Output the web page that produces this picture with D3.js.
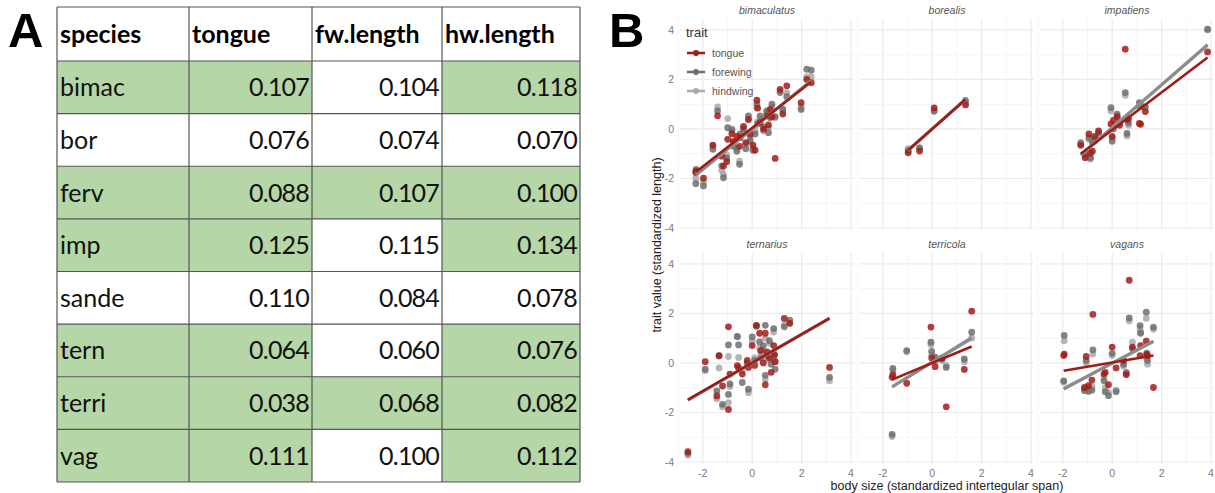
<!DOCTYPE html>
<html>
<head>
<meta charset="utf-8">
<script src="https://cdn.jsdelivr.net/npm/d3@7"></script>
<style>
  body { margin: 0; background: #fff; }
  svg { display: block; }
</style>
</head>
<body>
<svg id="fig" width="1215" height="493"></svg>
<script>
// ---------- Panel A: table data ----------
const tableHeader = ["species", "tongue", "fw.length", "hw.length"];
const species = ["bimac", "bor", "ferv", "imp", "sande", "tern", "terri", "vag"];
const tongue = [0.107, 0.076, 0.088, 0.125, 0.110, 0.064, 0.038, 0.111];
const fwLength = [0.104, 0.074, 0.107, 0.115, 0.084, 0.060, 0.068, 0.100];
const hwLength = [0.118, 0.070, 0.100, 0.134, 0.078, 0.076, 0.082, 0.112];
// green shading per cell (species, tongue, fw, hw)
const shaded = [
    [1, 1, 0, 1], [0, 0, 0, 0], [1, 1, 1, 1], [1, 1, 0, 1],
    [0, 0, 0, 0], [1, 1, 0, 1], [1, 1, 1, 1], [1, 1, 0, 1]
];

// ---------- Panel B: scatter data, rows are [body size, tongue, forewing, hindwing] ----------
const facetNames = ["bimaculatus", "borealis", "impatiens", "ternarius", "terricola", "vagans"];

const bimaculatus = [
    [-2.28, -1.76, -2.21, -2.00], [-2.27, -1.70, -1.63, -1.75], [-1.97, -1.99, -2.30, -2.14],
    [-1.59, -0.65, -0.82, -0.70], [-1.40, 0.53, 0.73, 0.89], [-1.03, -1.32, -1.18, -1.05],
    [-1.23, -1.10, -1.49, -1.68], [-1.16, -1.50, -1.97, -1.83], [-0.99, -0.42, 0.05, 0.42],
    [-0.82, -0.19, -0.05, 0.00], [-0.51, -0.70, -1.43, -1.30], [-0.49, -0.35, -0.20, -0.28],
    [-0.26, -0.55, -0.80, -0.62], [-0.15, 0.39, 0.53, 0.35], [-0.08, -0.22, -0.48, -0.35],
    [0.03, -0.65, -0.86, -0.75], [0.12, -0.86, -0.20, -0.08], [0.19, 1.16, 1.00, 0.86],
    [0.22, 0.84, 0.20, 0.30], [0.32, 0.26, 0.53, 0.39], [0.46, -0.01, 0.08, -0.08],
    [0.59, 0.53, 0.73, 0.66], [0.66, 0.16, -0.15, 0.05], [0.73, 0.79, 0.45, 0.60],
    [0.80, 0.50, 1.00, 0.89], [0.93, -1.19, 0.50, 0.45], [1.13, 1.60, 1.47, 1.54],
    [1.24, 0.60, 0.80, 0.73], [1.40, 1.74, 1.30, 1.47], [1.98, 1.06, 0.79, 0.89],
    [2.21, 2.00, 2.41, 2.10], [2.39, 1.87, 2.37, 2.10], [-0.76, -0.50, -0.70, -0.55],
    [-0.35, 0.10, 0.00, -0.10], [-0.62, -0.30, -0.90, -0.80]
];
const borealis = [
    [-0.97, -0.96, -0.88, -0.80], [-0.51, -0.89, -0.78, -0.75],
    [0.08, 0.85, 0.71, 0.75], [1.35, 0.97, 1.15, 1.06]
];
const impatiens = [
    [-1.27, -0.66, -0.55, -0.62], [-1.09, -1.16, -1.02, -1.10], [-0.94, -0.20, -0.35, -0.42],
    [-0.88, -0.98, -1.16, -1.22], [-0.80, -0.90, -0.55, -0.48], [-0.70, -0.30, -0.40, -0.50],
    [-0.55, -0.08, -0.15, -0.25], [-0.05, 0.20, 0.86, 0.73], [0.00, -0.30, -0.50, -0.38],
    [0.05, 0.35, 0.00, 0.10], [0.20, 0.50, 0.60, 0.50], [0.30, 0.15, 0.25, 0.35],
    [0.53, 3.22, 1.47, 1.36], [0.60, 0.38, -0.18, -0.28], [0.66, 0.42, 0.25, 0.15],
    [1.10, 0.22, 1.06, 0.90], [1.15, 0.19, 0.90, 1.00], [1.34, 0.70, 0.90, 0.85],
    [3.86, 3.11, 4.03, 4.00]
];
const ternarius = [
    [-2.60, -3.58, -3.65, -3.72], [-1.90, 0.05, -0.25, -0.31], [-1.34, 0.30, 0.28, -0.20],
    [-1.43, -1.33, -1.13, -1.45], [-1.20, -0.93, -1.67, -1.77], [-0.96, 1.46, 0.73, 0.26],
    [-0.96, -1.88, -1.27, -1.60], [-0.90, -0.45, -0.85, -0.95], [-0.60, -0.11, 1.07, 1.05],
    [-0.55, -0.20, 0.73, 0.22], [-0.40, -0.45, -0.79, -0.30], [-0.15, -0.18, -1.06, -1.20],
    [0.00, 0.70, 1.05, 0.88], [0.10, -0.10, 0.10, 0.20], [0.17, 1.52, 1.48, 1.50],
    [0.30, 1.20, 0.85, 0.60], [0.35, 0.50, 0.20, 0.40], [0.53, 1.20, 1.52, 1.00],
    [0.53, -0.88, -0.50, -0.65], [0.60, 0.45, 0.30, 0.15], [0.77, -0.38, -0.05, 0.10],
    [0.87, 0.70, 1.39, 1.25], [0.90, 0.35, 0.30, 0.10], [0.93, 0.05, -0.25, 0.05],
    [1.30, 1.80, 1.46, 1.55], [1.52, 1.60, 1.73, 1.60], [3.13, -0.18, -0.58, -0.72],
    [0.45, 0.00, 0.70, 0.50], [-0.20, 0.10, 0.00, -0.10], [0.70, 0.20, 0.90, 0.80]
];
const terricola = [
    [-1.59, -0.47, -0.22, -0.31], [-1.62, -0.58, -2.88, -2.97], [-1.03, -0.82, 0.50, 0.45],
    [-0.05, 1.45, 0.84, 0.74], [-0.02, 0.20, 0.47, 0.34], [0.12, -0.15, 0.23, 0.05],
    [0.40, 0.20, 0.16, 0.10], [0.57, -1.77, -0.18, -0.10], [1.30, -0.26, 0.16, 0.05],
    [1.60, 2.09, 1.24, 1.01]
];
const vagans = [
    [-1.94, 0.36, 1.11, 0.90], [-1.96, 0.30, -0.72, -0.78], [-1.05, 0.26, 0.10, 0.00],
    [-1.12, -0.99, -1.12, -1.05], [-0.96, -0.92, -1.15, -1.00], [-0.78, 1.96, 0.53, 0.36],
    [-0.82, -0.69, -1.10, -0.95], [-0.33, -0.45, -0.72, -0.60], [-0.28, -0.38, -1.16, -1.00],
    [-0.15, -0.88, -1.32, -1.20], [0.00, 0.64, 0.39, 0.30], [0.16, -0.20, -1.16, -1.10],
    [0.46, 0.10, -0.05, -0.12], [0.57, -0.47, -0.38, -0.45], [0.69, 3.34, 1.82, 1.69],
    [0.82, 0.64, 0.57, 0.84], [1.13, 0.30, 1.51, 1.38], [1.15, 0.70, 1.20, 1.25],
    [1.38, 0.88, 2.05, 1.80], [1.43, 0.30, 0.10, -0.05], [1.67, -0.99, 1.45, 1.36],
    [1.40, 0.35, 0.40, 0.20]
];

// fitted lines [intercept, slope] per facet
const fitTongue   = [[0.04, 0.78], [0.00, 0.88], [-0.04, 0.757], [0.01, 0.573], [0.00, 0.415], [0.02, 0.169]];
const fitForewing = [[0.00, 0.82], [0.00, 0.90], [0.05, 0.87], [0.00, 0.58], [0.03, 0.62], [-0.01, 0.535]];
const fitHindwing = [[0.02, 0.80], [0.00, 0.88], [0.06, 0.86], [0.00, 0.575], [0.02, 0.60], [-0.01, 0.52]];

const traits = ["tongue", "forewing", "hindwing"];
const xTicks = [-2, 0, 2, 4];
const yTicks = [-4, -2, 0, 2, 4];

const svg = d3.select("#fig");

// ---------- Panel A ----------
const colEdges = [57, 189, 312, 442, 580];
const headerTop = 7, headerBottom = 61, tableBottom = 482;
const green = "#b5d6a7";

svg.append("text")
    .attr("x", 8).attr("y", 47)
    .style("font-family", "Liberation Sans, Arial, sans-serif")
    .style("font-weight", "bold").style("font-size", "49px")
    .text("A");

const rowScale = d3.scaleBand().domain(species).range([headerBottom, tableBottom]);
const table = svg.append("g");

species.forEach((sp, i) => {
    const vals = [sp, tongue[i], fwLength[i], hwLength[i]];
    vals.forEach((v, j) => {
        if (shaded[i][j]) {
            table.append("rect")
                .attr("x", colEdges[j]).attr("y", rowScale(sp))
                .attr("width", colEdges[j + 1] - colEdges[j])
                .attr("height", rowScale.bandwidth())
                .attr("fill", green);
        }
        table.append("text")
            .attr("x", j === 0 ? colEdges[j] + 3 : colEdges[j + 1] - 3)
            .attr("y", rowScale(sp) + rowScale.bandwidth() / 2 + 9)
            .attr("text-anchor", j === 0 ? "start" : "end")
            .style("font-family", "Lato, sans-serif")
            .style("font-size", "25px")
            .style("letter-spacing", j === 0 ? "0px" : "-0.8px")
            .attr("fill", "#111")
            .text(j === 0 ? v : d3.format(".3f")(v));
    });
});

tableHeader.forEach((h, j) => {
    table.append("text")
        .attr("x", colEdges[j] + 3)
        .attr("y", (headerTop + headerBottom) / 2 + 9)
        .style("font-family", "Lato, sans-serif")
        .style("font-size", "25px").style("font-weight", "bold")
        .attr("fill", "#000")
        .text(h);
});

// grid lines of the table
const hLines = [headerTop, headerBottom].concat(species.map(s => rowScale(s) + rowScale.bandwidth()));
hLines.forEach(yy => {
    table.append("line")
        .attr("x1", colEdges[0]).attr("x2", colEdges[4])
        .attr("y1", yy).attr("y2", yy)
        .attr("stroke", "#555").attr("stroke-width", 1.2);
});
colEdges.forEach(xx => {
    table.append("line")
        .attr("x1", xx).attr("x2", xx)
        .attr("y1", headerTop).attr("y2", tableBottom)
        .attr("stroke", "#555").attr("stroke-width", 1.2);
});

// ---------- Panel B ----------
svg.append("text")
    .attr("x", 609).attr("y", 47)
    .style("font-family", "Liberation Sans, Arial, sans-serif")
    .style("font-weight", "bold").style("font-size", "49px")
    .text("B");

const panelW = 174, panelH = 211;
const panelX = [680, 860, 1040], panelY = [19, 253];
const x = d3.scaleLinear().domain([-2.92, 4.12]).range([0, panelW]);
const y = d3.scaleLinear().domain([-4.08, 4.44]).range([panelH, 0]);

const color = d3.scaleOrdinal().domain(traits).range(["#a11d18", "#6f6f6f", "#a9a9a9"]);
const lineColor = d3.scaleOrdinal().domain(traits).range(["#9e1b16", "#8c8c8c", "#a3a3a3"]);

const facetData = [bimaculatus, borealis, impatiens, ternarius, terricola, vagans];
const fits = { tongue: fitTongue, forewing: fitForewing, hindwing: fitHindwing };

facetData.forEach((rows, f) => {
    const col = f % 3, row = Math.floor(f / 3);
    const g = svg.append("g").attr("transform", `translate(${panelX[col]},${panelY[row]})`);

    // minor and major grid
    d3.range(-3, 5, 2).forEach(v => {
        g.append("line").attr("x1", x(v)).attr("x2", x(v)).attr("y1", 0).attr("y2", panelH)
            .attr("stroke", "#f2f2f2").attr("stroke-width", 0.8);
    });
    d3.range(-3, 5, 2).forEach(v => {
        g.append("line").attr("y1", y(v)).attr("y2", y(v)).attr("x1", 0).attr("x2", panelW)
            .attr("stroke", "#f2f2f2").attr("stroke-width", 0.8);
    });
    xTicks.forEach(v => {
        g.append("line").attr("x1", x(v)).attr("x2", x(v)).attr("y1", 0).attr("y2", panelH)
            .attr("stroke", "#ebebeb").attr("stroke-width", 1.2);
    });
    yTicks.forEach(v => {
        g.append("line").attr("y1", y(v)).attr("y2", y(v)).attr("x1", 0).attr("x2", panelW)
            .attr("stroke", "#ebebeb").attr("stroke-width", 1.2);
    });

    // strip label
    g.append("text")
        .attr("x", panelW / 2).attr("y", -5)
        .attr("text-anchor", "middle")
        .style("font-family", "Liberation Sans, Arial, sans-serif")
        .style("font-size", "10.5px").style("font-style", "italic")
        .attr("fill", "#555")
        .text(facetNames[f]);

    // points: greys first, tongue on top
    ["hindwing", "forewing", "tongue"].forEach(tr => {
        const k = traits.indexOf(tr) + 1;
        g.selectAll(null)
            .data(rows)
            .join("circle")
            .attr("cx", d => x(d[0]))
            .attr("cy", d => y(d[k]))
            .attr("r", 3.4)
            .attr("fill", color(tr))
            .attr("fill-opacity", 0.85);
    });

    // regression lines over the range of body size
    const xExt = d3.extent(rows, d => d[0]);
    const line = d3.line().x(d => x(d[0])).y(d => y(d[1]));
    ["hindwing", "forewing", "tongue"].forEach(tr => {
        const [a, b] = fits[tr][f];
        g.append("path")
            .datum(xExt.map(v => [v, a + b * v]))
            .attr("d", line)
            .attr("fill", "none")
            .attr("stroke", lineColor(tr))
            .attr("stroke-width", tr === "tongue" ? 2.6 : 3);
    });

    // y axis labels on left column
    if (col === 0) {
        yTicks.forEach(v => {
            g.append("text")
                .attr("x", -6).attr("y", y(v) + 4)
                .attr("text-anchor", "end")
                .style("font-family", "Liberation Sans, Arial, sans-serif")
                .style("font-size", "10.5px")
                .attr("fill", "#7a7a7a")
                .text(v);
        });
    }
    // x axis labels on bottom row
    if (row === 1) {
        xTicks.forEach(v => {
            g.append("text")
                .attr("x", x(v)).attr("y", panelH + 13)
                .attr("text-anchor", "middle")
                .style("font-family", "Liberation Sans, Arial, sans-serif")
                .style("font-size", "10.5px")
                .attr("fill", "#7a7a7a")
                .text(v);
        });
    }
});

// axis titles
svg.append("text")
    .attr("transform", "translate(661,245) rotate(-90)")
    .attr("text-anchor", "middle")
    .style("font-family", "Liberation Sans, Arial, sans-serif")
    .style("font-size", "12.5px")
    .attr("fill", "#222")
    .text("trait value (standardized length)");

svg.append("text")
    .attr("x", 947).attr("y", 490)
    .attr("text-anchor", "middle")
    .style("font-family", "Liberation Sans, Arial, sans-serif")
    .style("font-size", "12.5px")
    .attr("fill", "#222")
    .text("body size (standardized intertegular span)");

// legend
const legend = svg.append("g").attr("transform", "translate(686,0)");
legend.append("text")
    .attr("x", 0).attr("y", 37)
    .style("font-family", "Liberation Sans, Arial, sans-serif")
    .style("font-size", "13px")
    .attr("fill", "#333")
    .text("trait");
traits.forEach((tr, i) => {
    const yy = 53 + i * 19;
    legend.append("line")
        .attr("x1", 1).attr("x2", 19).attr("y1", yy).attr("y2", yy)
        .attr("stroke", color(tr)).attr("stroke-width", 2.5);
    legend.append("circle")
        .attr("cx", 10).attr("cy", yy).attr("r", 3)
        .attr("fill", color(tr));
    legend.append("text")
        .attr("x", 26).attr("y", yy + 4)
        .style("font-family", "Liberation Sans, Arial, sans-serif")
        .style("font-size", "10.5px")
        .attr("fill", "#555")
        .text(tr);
});
</script>
</body>
</html>
